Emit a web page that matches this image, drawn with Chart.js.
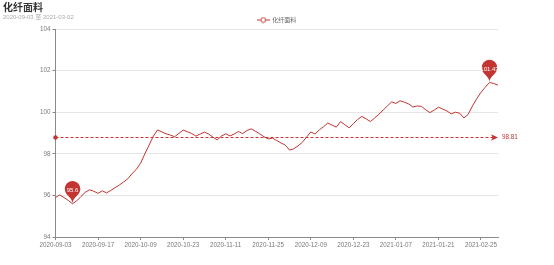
<!DOCTYPE html>
<html><head><meta charset="utf-8">
<script src="https://cdn.jsdelivr.net/npm/chart.js@4/dist/chart.umd.min.js"></script>
<style>html,body{margin:0;padding:0;background:#fff}#wrap{width:554px;height:265px;position:relative}</style>
</head><body><div id="wrap"><canvas id="c" width="554" height="265"></canvas></div>
<script>
const TITLE = '化纤面料';
const SUBTITLE = '2020-09-03 至 2021-03-02';
const SERIES_NAME = '化纤面料';
const dates = [
'2020-09-03','2020-09-04','2020-09-07','2020-09-08','2020-09-09','2020-09-10','2020-09-11','2020-09-14','2020-09-15','2020-09-16',
'2020-09-17','2020-09-18','2020-09-21','2020-09-22','2020-09-23','2020-09-24','2020-09-25','2020-09-28','2020-09-29','2020-09-30',
'2020-10-09','2020-10-12','2020-10-13','2020-10-14','2020-10-15','2020-10-16','2020-10-19','2020-10-20','2020-10-21','2020-10-22',
'2020-10-23','2020-10-26','2020-10-27','2020-10-28','2020-10-30','2020-11-02','2020-11-04','2020-11-05','2020-11-06','2020-11-09',
'2020-11-11','2020-11-12','2020-11-13','2020-11-16','2020-11-17','2020-11-18','2020-11-19','2020-11-20','2020-11-23','2020-11-24',
'2020-11-25','2020-11-26','2020-11-27','2020-11-30','2020-12-01','2020-12-02','2020-12-03','2020-12-04','2020-12-07','2020-12-08',
'2020-12-09','2020-12-10','2020-12-11','2020-12-14','2020-12-15','2020-12-16','2020-12-17','2020-12-18','2020-12-21','2020-12-22',
'2020-12-23','2020-12-24','2020-12-25','2020-12-28','2020-12-29','2020-12-30','2020-12-31','2021-01-04','2021-01-05','2021-01-06',
'2021-01-07','2021-01-08','2021-01-11','2021-01-12','2021-01-13','2021-01-14','2021-01-15','2021-01-18','2021-01-19','2021-01-20',
'2021-01-21','2021-01-25','2021-01-27','2021-01-29','2021-02-01','2021-02-03','2021-02-05','2021-02-08','2021-02-19','2021-02-22',
'2021-02-25','2021-02-26','2021-02-27','2021-03-01','2021-03-02'];
const values = [
95.9,96.02,95.9,95.76,95.6,95.74,95.95,96.15,96.27,96.2,
96.1,96.22,96.12,96.24,96.37,96.5,96.64,96.8,97.05,97.25,
97.55,98.0,98.42,98.85,99.15,99.05,98.96,98.9,98.82,98.98,
99.14,99.06,98.98,98.85,98.95,99.04,98.95,98.8,98.67,98.85,
98.96,98.86,98.95,99.07,98.97,99.12,99.2,99.08,98.96,98.82,
98.72,98.75,98.64,98.52,98.42,98.18,98.24,98.38,98.55,98.8,
99.05,98.95,99.15,99.3,99.48,99.38,99.28,99.55,99.4,99.25,
99.45,99.65,99.8,99.68,99.55,99.72,99.9,100.1,100.3,100.5,
100.42,100.55,100.48,100.4,100.25,100.3,100.28,100.12,99.98,100.1,
100.24,100.15,100.06,99.92,100.0,99.95,99.72,99.9,100.3,100.65,
100.95,101.2,101.43,101.38,101.3];
const yTicks = [94, 96, 98, 100, 102, 104];
const AVERAGE = 98.81;
const LABEL_EVERY = 10;

const RED = '#c23531';
const AXIS = '#8a8a8a';
const LABEL = '#7a7a7a';
const FONT = '"Liberation Sans", "Noto Sans CJK SC", sans-serif';

function legendIcon() {
  const c = document.createElement('canvas');
  c.width = 13; c.height = 7;
  const g = c.getContext('2d');
  g.strokeStyle = RED; g.lineWidth = 1;
  g.beginPath(); g.moveTo(0, 3.5); g.lineTo(13, 3.5); g.stroke();
  g.beginPath(); g.arc(6.5, 3.5, 2.4, 0, Math.PI * 2);
  g.fillStyle = '#fff'; g.fill(); g.stroke();
  return c;
}

function pinPath(ctx, x, y, S) {
  const w = S / 5 * 3, h = Math.max(w, S), r = w / 2;
  const dy = r * r / (h - r);
  const cy = y - h + r + dy;
  const angle = Math.asin(dy / r);
  const dx = Math.cos(angle) * r;
  const tanX = Math.sin(angle), tanY = Math.cos(angle);
  const cpLen = r * 0.6, cpLen2 = r * 0.7;
  ctx.beginPath();
  ctx.moveTo(x - dx, cy + dy);
  ctx.arc(x, cy, r, Math.PI - angle, Math.PI * 2 + angle);
  ctx.bezierCurveTo(x + dx - tanX * cpLen, cy + dy + tanY * cpLen, x, y - cpLen2, x, y);
  ctx.bezierCurveTo(x, y - cpLen2, x - dx + tanX * cpLen, cy + dy + tanY * cpLen, x - dx, cy + dy);
  ctx.closePath();
}

const markPlugin = {
  id: 'marks',
  afterDatasetsDraw(chart) {
    const {ctx, chartArea: a, scales: {x, y}} = chart;
    ctx.save();
    const ay = Math.round(y.getPixelForValue(AVERAGE)) + 0.5;
    ctx.strokeStyle = RED; ctx.fillStyle = RED; ctx.lineWidth = 1;
    ctx.setLineDash([3, 2]);
    ctx.beginPath(); ctx.moveTo(a.left, ay); ctx.lineTo(a.right - 5, ay); ctx.stroke();
    ctx.setLineDash([]);
    ctx.beginPath(); ctx.arc(a.left, ay, 2.2, 0, Math.PI * 2); ctx.fill();
    ctx.beginPath();
    ctx.moveTo(a.right, ay);
    ctx.lineTo(a.right - 7, ay - 3.2);
    ctx.lineTo(a.right - 5.3, ay);
    ctx.lineTo(a.right - 7, ay + 3.2);
    ctx.closePath(); ctx.fill();
    ctx.font = '6.3px ' + FONT;
    ctx.textAlign = 'left'; ctx.textBaseline = 'middle';
    ctx.fillText(AVERAGE.toFixed(2), a.right + 4, ay);
    let iMax = 0, iMin = 0;
    values.forEach((v, i) => { if (v > values[iMax]) iMax = i; if (v < values[iMin]) iMin = i; });
    [iMax, iMin].forEach(i => {
      const px = x.getPixelForValue(i), py = y.getPixelForValue(values[i]);
      pinPath(ctx, px, py, 26);
      ctx.fillStyle = RED; ctx.fill();
      ctx.fillStyle = '#fff';
      ctx.font = '6px ' + FONT;
      ctx.textAlign = 'center'; ctx.textBaseline = 'middle';
      ctx.fillText(String(values[i]), px, py - 13.5);
    });
    ctx.restore();
  }
};

new Chart(document.getElementById('c'), {
  type: 'line',
  data: {
    labels: dates,
    datasets: [{
      label: SERIES_NAME,
      data: values,
      borderColor: RED,
      backgroundColor: RED,
      borderWidth: 1,
      pointRadius: 0,
      pointHoverRadius: 0,
      pointStyle: legendIcon(),
      tension: 0,
      fill: false
    }]
  },
  options: {
    responsive: false,
    animation: false,
    devicePixelRatio: 1,
    layout: {padding: {left: 3, right: 56, top: 0, bottom: 0}},
    plugins: {
      title: {
        display: true, text: TITLE, align: 'start', color: '#333',
        font: {family: '"Noto Sans CJK SC", sans-serif', size: 10, weight: 'bold', lineHeight: 1},
        padding: {top: 2, bottom: -1}
      },
      subtitle: {
        display: true, text: SUBTITLE, align: 'start', color: '#aaa',
        font: {family: FONT, size: 6, lineHeight: 1},
        padding: {top: 3.3, bottom: -4.3}
      },
      legend: {
        display: true, position: 'top', align: 'center', fullSize: false,
        maxHeight: 13,
        labels: {
          usePointStyle: true, pointStyleWidth: 12, boxHeight: 6,
          padding: 1, color: '#666', font: {family: FONT, size: 6}
        }
      },
      tooltip: {enabled: false}
    },
    scales: {
      x: {
        type: 'category',
        offset: false,
        afterFit(s) { s.height = 28; },
        border: {color: AXIS, width: 1},
        grid: {
          drawOnChartArea: false, drawTicks: true, tickLength: 3,
          tickColor: c => (c.index % LABEL_EVERY === 0 ? AXIS : 'rgba(0,0,0,0)')
        },
        ticks: {
          autoSkip: false, maxRotation: 0, minRotation: 0, padding: 1,
          color: LABEL, font: {family: FONT, size: 6.3},
          callback(v, i) { return i % LABEL_EVERY === 0 ? dates[i] : ''; }
        }
      },
      y: {
        min: yTicks[0], max: yTicks[yTicks.length - 1],
        afterFit(s) { s.width = 52.5; },
        afterBuildTicks(s) { s.ticks = yTicks.map(v => ({value: v})); },
        border: {color: AXIS, width: 1},
        grid: {color: '#e6e6e6', tickColor: AXIS, tickLength: 3, drawTicks: true},
        ticks: {color: LABEL, padding: 2, font: {family: FONT, size: 6.3}}
      }
    }
  },
  plugins: [markPlugin]
});
</script>
</body></html>
